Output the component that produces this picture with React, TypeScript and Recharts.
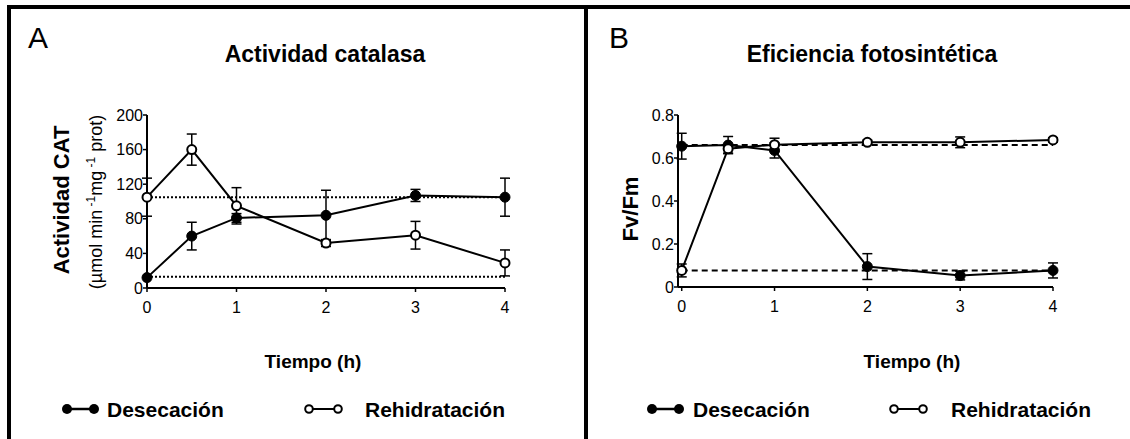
import {
  LineChart,
  Line,
  XAxis,
  YAxis,
  ErrorBar,
  ReferenceLine,
} from "recharts";

// sampling times (h)
const tiempos = [0, 0.5, 1, 2, 3, 4];

// panel A: catalase activity
const catDesecacion = [12, 60, 81, 84, 107, 105];
const catDesecacionErr = [0, 16, 5, 29, 7, 22];
const catRehidratacion = [105, 160, 95, 52, 61, 29];
const catRehidratacionErr = [22, 18, 21, 4, 16, 15];
const catReferencias = [105, 13];
const catTicksY = [0, 40, 80, 120, 160, 200];

// panel B: Fv/Fm
const fvDesecacion = [0.655, 0.66, 0.635, 0.095, 0.053, 0.077];
const fvDesecacionErr = [0.06, 0.04, 0.035, 0.06, 0.02, 0.035];
const fvRehidratacion = [0.077, 0.643, 0.662, 0.673, 0.673, 0.684];
const fvRehidratacionErr = [0.03, 0.02, 0.03, 0.01, 0.025, 0.01];
const fvReferencias = [0.66, 0.077];
const fvTicksY = [0, 0.2, 0.4, 0.6, 0.8];

const ticksX = [0, 1, 2, 3, 4];

const FONT = "'Liberation Sans', Arial, sans-serif";
const tickStyle = { fontSize: 16, fill: "#000", fontFamily: FONT };
const axisLine = { stroke: "#000", strokeWidth: 2 };
const tickLine = { stroke: "#000", strokeWidth: 1.5 };

function buildRows(des: number[], desErr: number[], reh: number[], rehErr: number[]) {
  return tiempos.map((t, i) => ({
    t,
    des: des[i],
    desErr: desErr[i],
    reh: reh[i],
    rehErr: rehErr[i],
  }));
}

const catRows = buildRows(catDesecacion, catDesecacionErr, catRehidratacion, catRehidratacionErr);
const fvRows = buildRows(fvDesecacion, fvDesecacionErr, fvRehidratacion, fvRehidratacionErr);

interface PanelProps {
  rows: ReturnType<typeof buildRows>;
  left: number;
  width: number;
  margin: { top: number; right: number; bottom: number; left: number };
  xDomain: [number, number];
  yDomain: [number, number];
  yTicks: number[];
  refs: number[];
  dash: string;
  fmt?: (v: number) => string;
}

function Panel({ rows, left, width, margin, xDomain, yDomain, yTicks, refs, dash, fmt }: PanelProps) {
  return (
    <div style={{ position: "absolute", left, top: 0 }}>
      <LineChart width={width} height={439} data={rows} margin={margin}>
        <XAxis
          dataKey="t"
          type="number"
          domain={xDomain}
          ticks={ticksX}
          tick={tickStyle}
          axisLine={axisLine}
          tickLine={tickLine}
          tickSize={4}
          tickMargin={10}
          height={40}
        />
        <YAxis
          type="number"
          domain={yDomain}
          ticks={yTicks}
          interval={0}
          tick={tickStyle}
          axisLine={axisLine}
          tickLine={tickLine}
          tickSize={4}
          tickMargin={0}
          width={60}
          tickFormatter={fmt}
        />
        {refs.map((r) => (
          <ReferenceLine
            key={r}
            segment={[
              { x: 0, y: r },
              { x: 4, y: r },
            ]}
            stroke="#000"
            strokeWidth={2}
            strokeDasharray={dash}
          />
        ))}
        <Line
          dataKey="des"
          stroke="#000"
          strokeWidth={2}
          dot={{ r: 5, fill: "#000", stroke: "#000", strokeWidth: 1 }}
          activeDot={false}
          isAnimationActive={false}
        >
          <ErrorBar dataKey="desErr" width={5} stroke="#000" strokeWidth={1.5} direction="y" />
        </Line>
        <Line
          dataKey="reh"
          stroke="#000"
          strokeWidth={2}
          dot={{ r: 4.5, fill: "#fff", stroke: "#000", strokeWidth: 2 }}
          activeDot={false}
          isAnimationActive={false}
        >
          <ErrorBar dataKey="rehErr" width={5} stroke="#000" strokeWidth={1.5} direction="y" />
        </Line>
      </LineChart>
    </div>
  );
}

function Leyenda({ x1, tx1, x2, tx2 }: { x1: number; tx1: number; x2: number; tx2: number }) {
  const y = 409;
  return (
    <g>
      <line x1={x1 + 5} y1={y} x2={x1 + 32} y2={y} stroke="#000" strokeWidth={2.5} />
      <circle cx={x1 + 5} cy={y} r={5} fill="#000" />
      <circle cx={x1 + 32} cy={y} r={5} fill="#000" />
      <text x={tx1} y={417} fontSize={21} fontWeight="bold">Desecación</text>
      <line x1={x2 + 4} y1={y} x2={x2 + 33} y2={y} stroke="#000" strokeWidth={2} />
      <circle cx={x2 + 4} cy={y} r={3.8} fill="#fff" stroke="#000" strokeWidth={2} />
      <circle cx={x2 + 33} cy={y} r={3.8} fill="#fff" stroke="#000" strokeWidth={2} />
      <text x={tx2} y={417} fontSize={21} fontWeight="bold">Rehidratación</text>
    </g>
  );
}

export default function App() {
  return (
    <div
      style={{
        position: "absolute",
        left: 0,
        top: 0,
        width: 1130,
        height: 439,
        background: "#fff",
        overflow: "hidden",
        fontFamily: FONT,
      }}
    >
      <Panel
        rows={catRows}
        left={0}
        width={560}
        margin={{ top: 115, right: 55, bottom: 111, left: 87 }}
        xDomain={[0, 4]}
        yDomain={[0, 200]}
        yTicks={catTicksY}
        refs={catReferencias}
        dash="2 2"
      />
      <Panel
        rows={fvRows}
        left={590}
        width={530}
        margin={{ top: 115, right: 67, bottom: 112, left: 28 }}
        xDomain={[-0.04, 4]}
        yDomain={[0, 0.8]}
        yTicks={fvTicksY}
        refs={fvReferencias}
        dash="6 4"
        fmt={(v: number) => (v === 0 ? "0" : v.toFixed(1))}
      />
      <svg
        width={1130}
        height={439}
        style={{ position: "absolute", left: 0, top: 0, pointerEvents: "none" }}
        fontFamily={FONT}
        fill="#000"
      >
        {/* frame */}
        <rect x={7} y={5} width={1123} height={4} fill="#000" />
        <rect x={7} y={5} width={4} height={434} fill="#000" />
        <rect x={584} y={5} width={4} height={434} fill="#000" />

        <text x={28} y={48} fontSize={30}>A</text>
        <text x={609} y={48} fontSize={30}>B</text>

        <text x={325} y={62} fontSize={23} fontWeight="bold" textAnchor="middle">Actividad catalasa</text>
        <text x={872} y={62} fontSize={23} fontWeight="bold" textAnchor="middle">Eficiencia fotosintética</text>

        <text x={69} y={200} fontSize={22} fontWeight="bold" textAnchor="middle" transform="rotate(-90 69 200)">
          Actividad CAT
        </text>
        <text x={102} y={202} fontSize={18} textAnchor="middle" transform="rotate(-90 102 202)">
          (µmol min
          <tspan fontSize={12} dy={-7}> -1</tspan>
          <tspan dy={7}>mg</tspan>
          <tspan fontSize={12} dy={-7}> -1</tspan>
          <tspan dy={7}> prot)</tspan>
        </text>
        <text x={638} y={209} fontSize={22} fontWeight="bold" textAnchor="middle" transform="rotate(-90 638 209)">
          Fv/Fm
        </text>

        <text x={313} y={368} fontSize={19} fontWeight="bold" textAnchor="middle">Tiempo (h)</text>
        <text x={912} y={368} fontSize={19} fontWeight="bold" textAnchor="middle">Tiempo (h)</text>

        <Leyenda x1={62} tx1={107} x2={305} tx2={365} />
        <Leyenda x1={647} tx1={693} x2={890} tx2={951} />
      </svg>
    </div>
  );
}
